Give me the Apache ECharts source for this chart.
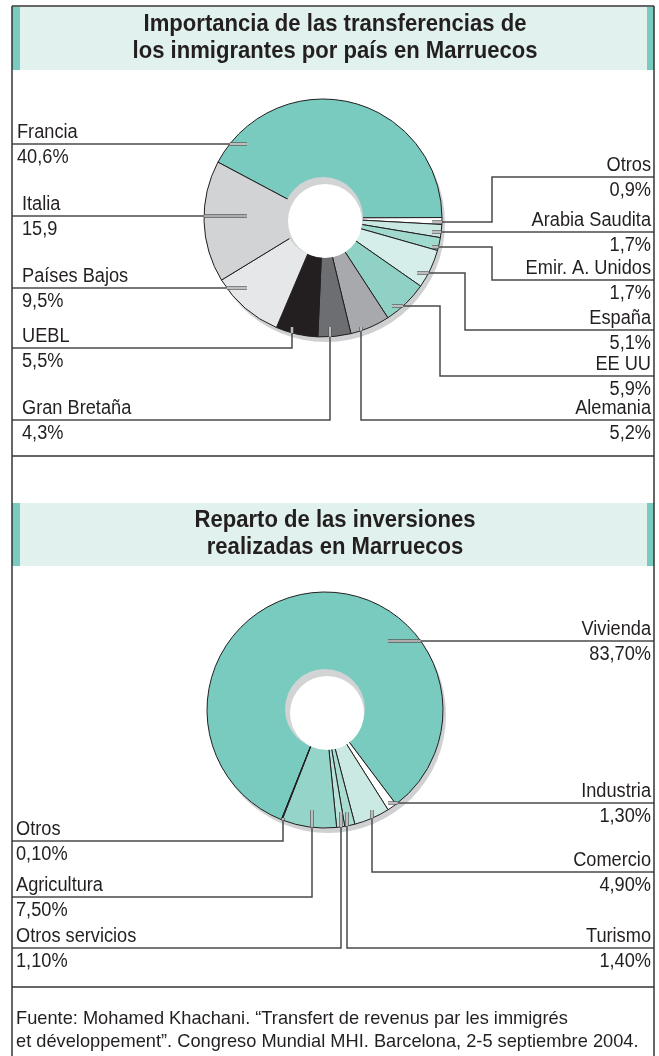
<!DOCTYPE html>
<html>
<head>
<meta charset="utf-8">
<script src="https://cdn.jsdelivr.net/npm/echarts@6/dist/echarts.min.js"></script>
<style>
  html, body { margin: 0; padding: 0; background: #fff; }
  #chart { width: 659px; height: 1056px; }
</style>
</head>
<body>
<div id="chart"></div>
<script>
// Transferencias de los inmigrantes por país (%), en sentido horario desde Francia
const paises = ['Francia', 'Otros', 'Arabia Saudita', 'Emir. A. Unidos', 'España', 'EE UU',
  'Alemania', 'Gran Bretaña', 'UEBL', 'Países Bajos', 'Italia']
const remesas = [40.6, 0.9, 1.7, 1.7, 5.1, 5.9, 5.2, 4.3, 5.5, 9.5, 15.9]
const remesasTexto = ['40,6%', '0,9%', '1,7%', '1,7%', '5,1%', '5,9%', '5,2%', '4,3%', '5,5%', '9,5%', '15,9']
const coloresPaises = ['#79cbbf', '#ffffff', '#c9e8e2', '#a0d9ce', '#d5eeea', '#8fd2c5',
  '#a7a9ac', '#6d6e71', '#231f20', '#e6e7e8', '#d1d3d4']

// Reparto de las inversiones (%)
const sectores = ['Vivienda', 'Industria', 'Comercio', 'Turismo', 'Otros servicios', 'Agricultura', 'Otros']
const inversiones = [83.7, 1.3, 4.9, 1.4, 1.1, 7.5, 0.1]
const inversionesTexto = ['83,70%', '1,30%', '4,90%', '1,40%', '1,10%', '7,50%', '0,10%']
const coloresSectores = ['#79cbbf', '#ffffff', '#cbe9e3', '#a9ddd3', '#b7e3da', '#95d5c9', '#231f20']

// geometría
const pie1 = { c: [323, 218], r: 119, hole: 40, start: 152 }
const pie2 = { c: [325, 710], r: 118, hole: 40, start: 248.3 }

// posición de las etiquetas: lado, x del texto y recorrido de la línea guía
const guias1 = [
  { side: 'l', x: 17, pts: [[247, 144], [12, 144]] },
  { side: 'r', x: 651, pts: [[432, 222], [492, 222], [492, 177], [654, 177]] },
  { side: 'r', x: 651, pts: [[432, 232], [654, 232]] },
  { side: 'r', x: 651, pts: [[432, 247], [492, 247], [492, 280], [654, 280]] },
  { side: 'r', x: 651, pts: [[417, 273], [465, 273], [465, 330], [654, 330]] },
  { side: 'r', x: 651, pts: [[392, 306], [440, 306], [440, 376], [654, 376]] },
  { side: 'r', x: 651, pts: [[361, 327], [361, 420], [654, 420]] },
  { side: 'l', x: 22, pts: [[330, 327], [330, 420], [12, 420]] },
  { side: 'l', x: 22, pts: [[292, 327], [292, 348], [12, 348]] },
  { side: 'l', x: 22, pts: [[247, 288], [12, 288]] },
  { side: 'l', x: 22, pts: [[247, 216], [12, 216]] }
]
const guias2 = [
  { side: 'r', x: 651, pts: [[388, 641], [654, 641]] },
  { side: 'r', x: 651, pts: [[388, 803], [654, 803]] },
  { side: 'r', x: 651, pts: [[372, 810], [372, 872], [654, 872]] },
  { side: 'r', x: 651, pts: [[347, 812], [347, 948], [654, 948]] },
  { side: 'l', x: 16, pts: [[341, 812], [341, 948], [12, 948]] },
  { side: 'l', x: 16, pts: [[312, 810], [312, 897], [12, 897]] },
  { side: 'l', x: 16, pts: [[283, 818], [283, 841], [12, 841]] }
]

const TXT = '#231f20'
const FONT = '"Liberation Sans", Arial, sans-serif'

const texto = (str, x, y, align, size, bold, sx) => ({
  type: 'text', x: x, y: y, scaleX: sx, z: 20,
  style: {
    text: str, fill: TXT, font: (bold ? 'bold ' : '') + size + 'px ' + FONT,
    align: align, textAlign: align, verticalAlign: 'middle', textVerticalAlign: 'middle'
  }
})

// punto donde el primer tramo de la guía sale del círculo
const corte = (p0, p1, c, r) => {
  const dx = p1[0] - p0[0], dy = p1[1] - p0[1]
  const fx = p0[0] - c[0], fy = p0[1] - c[1]
  const a = dx * dx + dy * dy, b = 2 * (fx * dx + fy * dy), k = fx * fx + fy * fy - r * r
  let t = (-b + Math.sqrt(Math.max(0, b * b - 4 * a * k))) / (2 * a)
  t = Math.min(1, Math.max(0, t))
  return [p0[0] + t * dx, p0[1] + t * dy]
}

const etiquetas = (guias, nombres, valores, pie) => {
  const out = []
  guias.forEach((g, i) => {
    const pts = g.pts
    const q = corte(pts[0], pts[1], pie.c, pie.r)
    // tramo dentro de la tarta: línea doble
    out.push({ type: 'polyline', z: 15, shape: { points: [pts[0], q] }, style: { stroke: '#5a5a5a', lineWidth: 3.4, fill: null } })
    out.push({ type: 'polyline', z: 16, shape: { points: [pts[0], q] }, style: { stroke: '#ffffff', lineWidth: 1.2, fill: null } })
    out.push({ type: 'polyline', z: 15, shape: { points: [q].concat(pts.slice(1)) }, style: { stroke: '#4a4a4a', lineWidth: 1.5, fill: null } })
    const y = pts[pts.length - 1][1]
    const align = g.side === 'l' ? 'left' : 'right'
    out.push(texto(nombres[i], g.x, y - 12, align, 20, false, 0.91))
    out.push(texto(valores[i], g.x, y + 13, align, 20, false, 0.91))
  })
  return out
}

const sombra = (pie) => ([
  { type: 'circle', z: 1, shape: { cx: pie.c[0] + 3, cy: pie.c[1] + 5, r: pie.r }, style: { fill: '#cfd0d2' } },
  { type: 'circle', z: 5, shape: { cx: pie.c[0], cy: pie.c[1] - 1, r: pie.hole }, style: { fill: '#d1d3d4' } },
  { type: 'circle', z: 6, shape: { cx: pie.c[0] + 2, cy: pie.c[1] + 3, r: pie.hole - 3 }, style: { fill: '#ffffff' } }
])

const barra = (y0, y1) => ([
  { type: 'rect', z: 0, shape: { x: 12, y: y0, width: 642, height: y1 - y0 }, style: { fill: '#e1f1ed' } },
  { type: 'rect', z: 0, shape: { x: 12, y: y0, width: 8, height: y1 - y0 }, style: { fill: '#79cbbf' } },
  { type: 'rect', z: 0, shape: { x: 647, y: y0, width: 7, height: y1 - y0 }, style: { fill: '#79cbbf' } }
])

const linea = (x1, y1, x2, y2) => ({
  type: 'line', z: 25, shape: { x1: x1, y1: y1, x2: x2, y2: y2 }, style: { stroke: '#333333', lineWidth: 1.5 }
})

const serie = (pie, nombres, valores, colores) => ({
  type: 'pie',
  silent: true,
  center: pie.c,
  radius: [0, pie.r],
  startAngle: pie.start,
  clockwise: true,
  z: 2,
  label: { show: false },
  labelLine: { show: false },
  itemStyle: { borderColor: '#231f20', borderWidth: 1 },
  data: nombres.map((n, i) => ({ name: n, value: valores[i], itemStyle: { color: colores[i] } }))
})

const chart = echarts.init(document.getElementById('chart'))

const graficos = [].concat(
  barra(7, 70),
  barra(503, 566),
  [
    texto('Importancia de las transferencias de', 335, 24, 'center', 24, true, 0.92),
    texto('los inmigrantes por país en Marruecos', 335, 51, 'center', 24, true, 0.92),
    texto('Reparto de las inversiones', 335, 520, 'center', 24, true, 0.92),
    texto('realizadas en Marruecos', 335, 547, 'center', 24, true, 0.92),
    texto('Fuente: Mohamed Khachani. “Transfert de revenus par les immigrés', 16, 1019, 'left', 19, false, 0.96),
    texto('et développement”. Congreso Mundial MHI. Barcelona, 2-5 septiembre 2004.', 16, 1042, 'left', 19, false, 0.96)
  ],
  sombra(pie1),
  sombra(pie2),
  etiquetas(guias1, paises, remesasTexto, pie1),
  etiquetas(guias2, sectores, inversionesTexto, pie2),
  [
    linea(12, 6, 654, 6),
    linea(12, 6, 12, 1056),
    linea(654, 6, 654, 1056),
    linea(12, 456, 654, 456),
    linea(12, 987, 654, 987)
  ]
)

chart.setOption({
  backgroundColor: '#ffffff',
  animation: false,
  series: [
    serie(pie1, paises, remesas, coloresPaises),
    serie(pie2, sectores, inversiones, coloresSectores)
  ],
  graphic: graficos
})
</script>
</body>
</html>
